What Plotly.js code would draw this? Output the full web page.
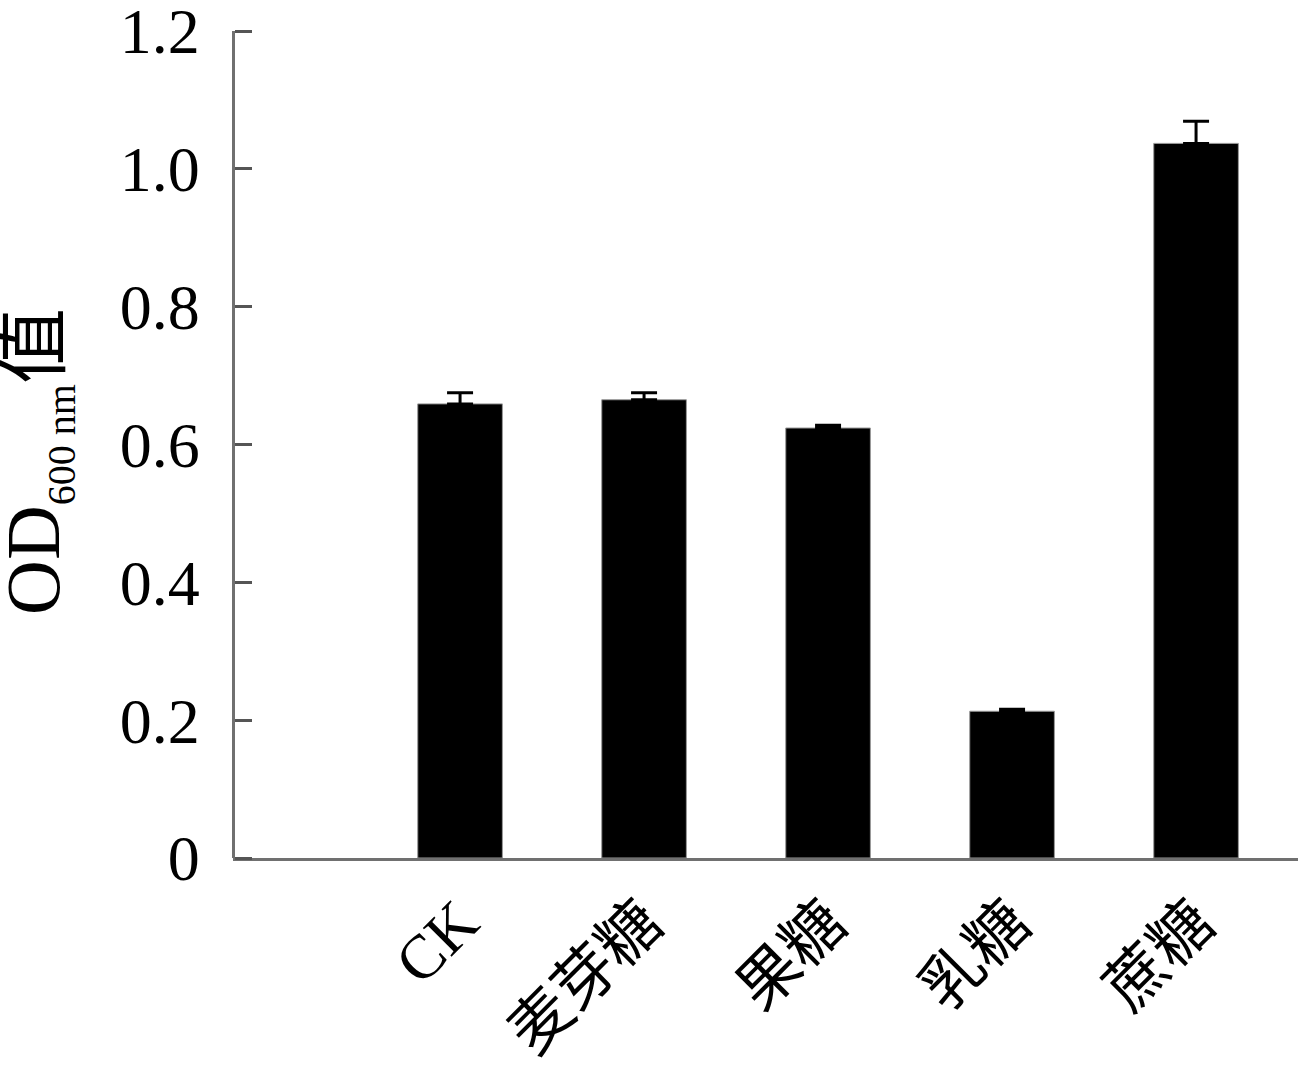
<!DOCTYPE html>
<html>
<head>
<meta charset="utf-8">
<script src="https://cdn.plot.ly/plotly-3.0.1.min.js"></script>
<style>html,body{margin:0;padding:0;background:#fff;}#chart{width:1298px;height:1072px;}</style>
</head>
<body>
<div id="chart"></div>
<script>
const categories = ["CK", "麦芽糖", "果糖", "乳糖", "蔗糖"];
const odValues = [0.659, 0.665, 0.624, 0.213, 1.037];
const errValues = [0.016, 0.010, 0.004, 0.003, 0.032];
const yTickVals = [0, 0.2, 0.4, 0.6, 0.8, 1.0, 1.2];
const yTickText = ["0", "0.2", "0.4", "0.6", "0.8", "1.0", "1.2"];
const yTitle = 'OD<sub><span style="font-size:40px">600 nm</span></sub>值';

const serif = "Liberation Serif, Times New Roman, Noto Sans CJK SC, serif";

const trace = {
  type: "bar",
  x: categories.map((c, i) => i),
  y: odValues,
  width: 0.46,
  marker: {color: "#000000", line: {color: "#999999", width: 1}},
  error_y: {type: "data", array: errValues, symmetric: false, arrayminus: errValues.map(() => 0), visible: true, color: "#000000", thickness: 3, width: 13}
};

const layout = {
  width: 1298,
  height: 1072,
  margin: {l: 233, r: 0, t: 31, b: 214},
  paper_bgcolor: "#ffffff",
  plot_bgcolor: "#ffffff",
  showlegend: false,
  font: {family: serif, color: "#000000"},
  xaxis: {
    range: [-1.234, 4.554],
    tickmode: "array",
    tickvals: categories.map((c, i) => i),
    ticktext: categories,
    tickangle: -45,
    ticks: "",
    showline: true,
    linecolor: "#707070",
    linewidth: 3,
    showgrid: false,
    zeroline: false,
    tickfont: {family: serif, size: 62, color: "#000000"}
  },
  yaxis: {
    range: [0, 1.2001],
    tickmode: "array",
    tickvals: yTickVals,
    ticktext: yTickText,
    side: "right",
    anchor: "free",
    position: 0,
    ticks: "outside",
    ticklen: 17,
    tickwidth: 3,
    tickcolor: "#555555",
    ticklabelposition: "inside",
    ticklabelstandoff: 42,
    ticklabeloverflow: "allow",
    showline: true,
    linecolor: "#707070",
    linewidth: 3,
    showgrid: false,
    zeroline: false,
    tickfont: {family: serif, size: 64, color: "#000000"}
  },
  annotations: [{
    text: yTitle,
    xref: "paper", yref: "paper",
    x: -0.183, y: 0.479,
    xanchor: "center", yanchor: "middle",
    textangle: -90,
    showarrow: false,
    font: {family: serif, size: 76, color: "#000000"}
  }]
};

Plotly.newPlot("chart", [trace], layout, {displayModeBar: false});
</script>
</body>
</html>
